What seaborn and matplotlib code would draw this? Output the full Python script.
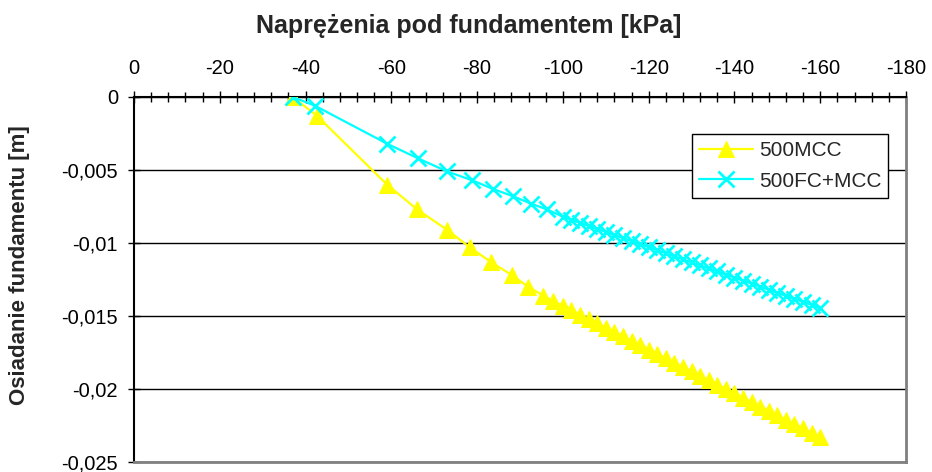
import matplotlib
matplotlib.use("Agg")
import matplotlib.pyplot as plt
import seaborn as sns
from matplotlib.ticker import MultipleLocator, FuncFormatter

# Series: pressure under foundation [kPa] vs settlement [m]
mcc_x = [-37, -42.7, -59, -66, -73, -78.3, -83.2, -88.1, -91.9, -95.4, -97.7,
         -100, -102, -104, -106, -108, -110, -112, -114, -116, -118, -120,
         -122, -124, -126, -128, -130, -132, -134, -136, -138, -140,
         -142, -144, -146, -148, -150, -152, -154, -156, -158, -160]
mcc_y = [0, -0.0013, -0.006, -0.0077, -0.0091, -0.0103, -0.0113, -0.0122, -0.013, -0.0136, -0.014,
         -0.0143, -0.0146, -0.0149, -0.0152, -0.0155, -0.0158, -0.0161, -0.0164, -0.0167, -0.017, -0.0173,
         -0.0176, -0.0179, -0.0182, -0.0185, -0.0188, -0.0191, -0.0194, -0.0197, -0.02, -0.0203,
         -0.0206, -0.0209, -0.0212, -0.0215, -0.0218, -0.0221, -0.0224, -0.0227, -0.023, -0.0233]

fc_x = [-37, -42.2, -59, -66.2, -73, -78.8, -83.7, -88.4, -92.5, -96.3,
        -100, -102, -104, -106, -108, -110, -112, -114, -116, -118, -120,
        -122, -124, -126, -128, -130, -132, -134, -136, -138, -140,
        -142, -144, -146, -148, -150, -152, -154, -156, -158, -160]
fc_y = [0, -0.0006, -0.0032, -0.0042, -0.0051, -0.0057, -0.0063, -0.0068, -0.0073, -0.0077,
        -0.0082, -0.00841, -0.00862, -0.00883, -0.00903, -0.00924, -0.00945, -0.00966, -0.00987, -0.01008, -0.01028,
        -0.01049, -0.0107, -0.01091, -0.01112, -0.01133, -0.01153, -0.01174, -0.01195, -0.01216, -0.01237,
        -0.01258, -0.01278, -0.01299, -0.0132, -0.01341, -0.01362, -0.01383, -0.01403, -0.01424, -0.01445]

labels = ["500MCC", "500FC+MCC"]
x_title = "Naprężenia pod fundamentem [kPa]"
y_title = "Osiadanie fundamentu [m]"

sns.set_style("white")
plt.rcParams['font.family'] = ['Liberation Sans', 'DejaVu Sans']

fig = plt.figure(figsize=(9.32, 4.72), dpi=100)
ax = fig.add_axes([0.1438, 0.0212, 0.9721 - 0.1438, 0.7945 - 0.0212])

sns.lineplot(x=mcc_x, y=mcc_y, ax=ax, sort=False, color='#ffff00', linewidth=1.6,
             marker='^', markersize=11, markeredgecolor='#ffff00', label=labels[0], zorder=3)
sns.lineplot(x=fc_x, y=fc_y, ax=ax, sort=False, color='#00ffff', linewidth=1.6,
             marker='x', markersize=11, markeredgewidth=2, markeredgecolor='#00ffff',
             label=labels[1], zorder=4)

ax.set_xlim(0, -180)
ax.set_ylim(-0.025, 0)

# x axis on top
ax.xaxis.tick_top()
ax.xaxis.set_label_position('top')
ax.xaxis.set_major_locator(MultipleLocator(20))
ax.xaxis.set_minor_locator(MultipleLocator(4))
ax.yaxis.set_major_locator(MultipleLocator(0.005))

def comma_fmt(v, pos):
    s = f"{v:.3f}".rstrip('0').rstrip('.')
    if s in ("-0", "0"):
        s = "0"
    return s.replace('.', ',')

ax.xaxis.set_major_formatter(FuncFormatter(lambda v, p: f"{v:.0f}" if abs(v) > 1e-9 else "0"))
ax.yaxis.set_major_formatter(FuncFormatter(comma_fmt))

ax.tick_params(axis='x', which='major', direction='inout', length=9, width=1, colors='black',
               labelsize=14.5, pad=9, top=True, bottom=False)
ax.tick_params(axis='x', which='minor', direction='inout', length=7, width=1, colors='black',
               top=True, bottom=False)
ax.tick_params(axis='y', which='major', direction='inout', length=9, width=1, colors='black',
               labelsize=14.5, pad=7, left=True)

ax.yaxis.grid(True, color='black', linewidth=1)
ax.xaxis.grid(False)
ax.set_axisbelow(True)

for side in ['top', 'left']:
    ax.spines[side].set_color('black')
    ax.spines[side].set_linewidth(1.5)
for side in ['right', 'bottom']:
    ax.spines[side].set_color('#808080')
    ax.spines[side].set_linewidth(2)
    ax.spines[side].set_visible(True)

ax.set_xlabel(x_title, fontsize=18, fontweight='bold')
ax.xaxis.set_label_coords(0.433, 1.175)
ax.set_ylabel(y_title, fontsize=16, fontweight='bold')
ax.yaxis.set_label_coords(-0.135, 0.54)

leg = ax.legend(loc='upper left', bbox_to_anchor=(692 / 932, 1 - 134 / 472),
                bbox_transform=fig.transFigure, fontsize=15, frameon=True, fancybox=False,
                edgecolor='black', handlelength=2.6, handletextpad=0.25, borderpad=0.35,
                labelspacing=0.55, borderaxespad=0)
leg.get_frame().set_linewidth(1)
leg.get_frame().set_alpha(1)

fig.savefig("out.png", dpi=100)
